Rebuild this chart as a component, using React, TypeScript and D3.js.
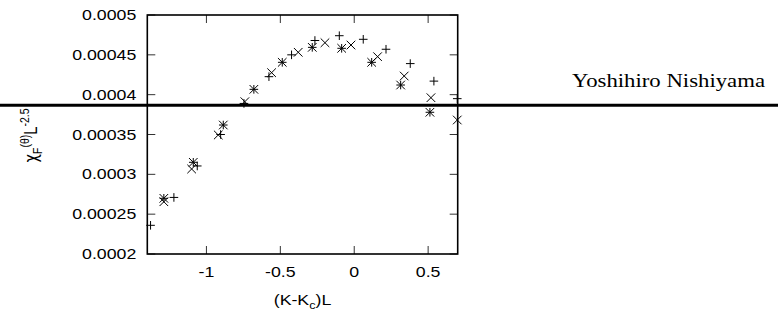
import React, { useEffect, useRef } from 'react';
import * as d3 from 'd3';

// series: + , x and * markers
const plusX = [-1.378, -1.22, -1.062, -0.904, -0.746, -0.577, -0.424, -0.266, -0.101, 0.061, 0.215, 0.379, 0.539, 0.697];
const plusY = [0.000236, 0.000271, 0.0003105, 0.00035, 0.000389, 0.0004226, 0.00045, 0.000468, 0.000474, 0.0004695, 0.000457, 0.000439, 0.000417, 0.000395];

const crossX = [-1.288, -1.1, -0.92, -0.74, -0.559, -0.379, -0.198, -0.022, 0.158, 0.338, 0.519, 0.697];
const crossY = [0.0002656, 0.0003067, 0.0003494, 0.0003912, 0.0004276, 0.0004532, 0.0004652, 0.0004623, 0.0004477, 0.0004234, 0.0003962, 0.0003682];

const starX = [-1.288, -1.089, -0.886, -0.679, -0.487, -0.284, -0.085, 0.118, 0.314, 0.512];
const starY = [0.0002699, 0.0003151, 0.0003619, 0.0004067, 0.0004406, 0.0004594, 0.0004582, 0.0004406, 0.0004121, 0.0003779];

const xTicks = [-1, -0.5, 0, 0.5];
const xTickLabels = ['-1', '-0.5', '0', '0.5'];
const yTicks = [0.0002, 0.00025, 0.0003, 0.00035, 0.0004, 0.00045, 0.0005];
const yTickLabels = ['0.0002', '0.00025', '0.0003', '0.00035', '0.0004', '0.00045', '0.0005'];

const App = () => {
  const ref = useRef<SVGSVGElement>(null);

  useEffect(() => {
    const svg = d3.select(ref.current);
    svg.selectAll('*').remove();

    const left = 147.3, right = 457.7, top = 15, bottom = 254;
    const x = d3.scaleLinear().domain([-1.4, 0.7]).range([left, right]);
    const y = d3.scaleLinear().domain([0.0002, 0.0005]).range([bottom, top]);
    const font = 'Liberation Sans, Arial, sans-serif';
    const fs = 14.8;
    const sx = 1.2; // the figure is stretched horizontally

    // ticks, drawn inward on all four sides (mirror)
    const tickLen = 8;
    const ticks = svg.append('g').attr('stroke', '#333').attr('stroke-width', 1);
    xTicks.forEach(v => {
      ticks.append('line').attr('x1', x(v)).attr('x2', x(v)).attr('y1', bottom).attr('y2', bottom - tickLen);
      ticks.append('line').attr('x1', x(v)).attr('x2', x(v)).attr('y1', top).attr('y2', top + tickLen);
    });
    yTicks.forEach(v => {
      ticks.append('line').attr('x1', left).attr('x2', left + tickLen).attr('y1', y(v)).attr('y2', y(v));
      ticks.append('line').attr('x1', right).attr('x2', right - tickLen).attr('y1', y(v)).attr('y2', y(v));
    });

    // tick labels
    xTicks.forEach((v, i) => {
      svg.append('text')
        .attr('transform', `translate(${x(v)},${bottom + 23}) scale(${sx},1)`)
        .attr('text-anchor', 'middle')
        .attr('font-family', font).attr('font-size', fs)
        .text(xTickLabels[i]);
    });
    yTicks.forEach((v, i) => {
      svg.append('text')
        .attr('transform', `translate(${left - 11},${y(v) + 5}) scale(${sx},1)`)
        .attr('text-anchor', 'end')
        .attr('font-family', font).attr('font-size', fs)
        .text(yTickLabels[i]);
    });

    // frame
    svg.append('rect')
      .attr('x', left).attr('y', top)
      .attr('width', right - left).attr('height', bottom - top)
      .attr('fill', 'none').attr('stroke', '#000').attr('stroke-width', 1.6);

    // axis titles
    const xl = svg.append('text')
      .attr('transform', `translate(${(left + right) / 2},${bottom + 51}) scale(${sx},1)`)
      .attr('text-anchor', 'middle')
      .attr('font-family', font).attr('font-size', fs);
    xl.append('tspan').text('(K-K');
    xl.append('tspan').attr('font-size', 10.5).attr('dy', 4).text('c');
    xl.append('tspan').attr('dy', -4).text(')L');

    const yl = svg.append('text')
      .attr('transform', `translate(37,${(top + bottom) / 2 + 1}) rotate(-90) scale(1,1.2)`)
      .attr('text-anchor', 'middle')
      .attr('font-family', font).attr('font-size', fs);
    yl.append('tspan').attr('font-family', 'DejaVu Sans, sans-serif').text('χ');
    yl.append('tspan').attr('font-size', 10.5).attr('dy', 4).text('F');
    yl.append('tspan').attr('font-size', 10.5).attr('dy', -11).text('(θ)');
    yl.append('tspan').attr('dy', 7).text('L');
    yl.append('tspan').attr('font-size', 10.5).attr('dy', -7).text('-2.5');

    // markers
    const r = 4.3;
    const pts = svg.append('g').attr('stroke', '#000').attr('stroke-width', 1).attr('fill', 'none');
    const plusPath = (cx: number, cy: number) => `M${cx - r},${cy}H${cx + r}M${cx},${cy - r}V${cy + r}`;
    const crossPath = (cx: number, cy: number) =>
      `M${cx - r},${cy - r}L${cx + r},${cy + r}M${cx - r},${cy + r}L${cx + r},${cy - r}`;

    plusX.forEach((v, i) => pts.append('path').attr('d', plusPath(x(v), y(plusY[i]))));
    crossX.forEach((v, i) => pts.append('path').attr('d', crossPath(x(v), y(crossY[i]))));
    starX.forEach((v, i) => {
      pts.append('path').attr('d', plusPath(x(v), y(starY[i])) + crossPath(x(v), y(starY[i])));
    });

    // page header: author and rule
    svg.append('text')
      .attr('x', 572).attr('y', 87)
      .attr('font-family', 'Liberation Serif, Times New Roman, serif')
      .attr('font-size', 19)
      .attr('textLength', 193)
      .attr('lengthAdjust', 'spacingAndGlyphs')
      .text('Yoshihiro Nishiyama');
    svg.append('line')
      .attr('x1', 0).attr('x2', 778).attr('y1', 105.3).attr('y2', 105.3)
      .attr('stroke', '#000').attr('stroke-width', 3);

    return () => {
      svg.selectAll('*').remove();
    };
  }, []);

  return (
    <svg
      ref={ref}
      width={778}
      height={320}
      style={{ position: 'absolute', left: 0, top: 0, background: '#fff' }}
    />
  );
};

export default App;
